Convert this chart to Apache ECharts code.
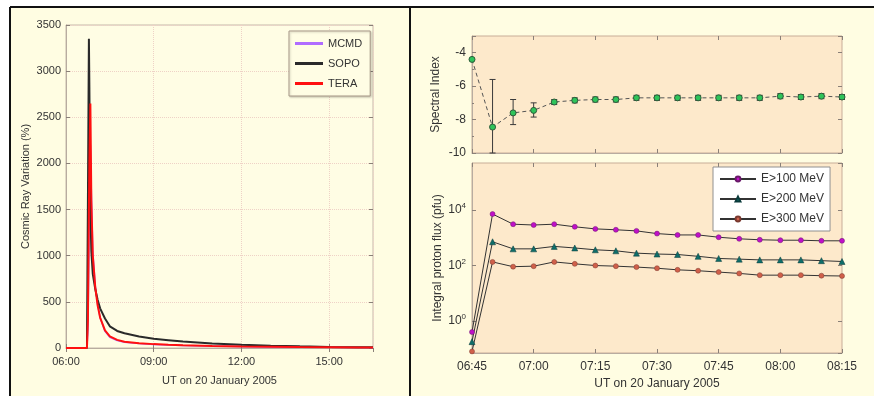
<!DOCTYPE html>
<html>
<head>
<meta charset="utf-8">
<script src="https://cdn.jsdelivr.net/npm/echarts@6/dist/echarts.min.js"></script>
<style>
html,body{margin:0;padding:0;background:#fff}
#chart{width:874px;height:396px}
</style>
</head>
<body>
<div id="chart"></div>
<script>
// left panel: cosmic ray variation (%)
var crTimes = ['06:00','06:43','06:44','06:45','06:47','06:48','06:50','06:52','06:55','07:00','07:05','07:10','07:20','07:30','07:45','08:00','08:30','09:00','09:30','10:00','11:00','12:00','13:00','14:00','15:00','16:00','16:30'];
var mcmd = [0,0,0,200,1000,1600,2200,1700,1050,680,470,330,180,115,80,62,48,38,33,28,21,15,11,9,7,5,4];
var sopo = [0,0,800,1600,3350,2800,1500,1050,800,640,520,430,320,235,185,160,125,100,85,70,50,35,25,18,12,9,8];
var tera = [0,0,0,300,1500,2000,2650,1600,1000,660,460,330,190,125,88,68,52,42,36,31,23,17,13,10,8,6,5];

// right panels, 5 min steps
var fxTimes = ['06:45','06:50','06:55','07:00','07:05','07:10','07:15','07:20','07:25','07:30','07:35','07:40','07:45','07:50','07:55','08:00','08:05','08:10','08:15'];
var specIndex = [-4.4,-8.45,-7.6,-7.45,-6.95,-6.85,-6.8,-6.8,-6.7,-6.7,-6.7,-6.7,-6.7,-6.7,-6.7,-6.6,-6.65,-6.6,-6.65];
var specHigh = [-4.4,-5.6,-6.8,-7.0,-6.8,-6.7,-6.65,-6.65,-6.55,-6.55,-6.55,-6.55,-6.55,-6.55,-6.55,-6.45,-6.5,-6.45,-6.5];
var specLow = [-4.4,-10,-8.3,-7.85,-7.1,-7.0,-6.95,-6.95,-6.85,-6.85,-6.85,-6.85,-6.85,-6.85,-6.85,-6.75,-6.8,-6.75,-6.8];
var e100 = [0.4,7200,3100,2900,3100,2500,2100,1950,1780,1420,1270,1270,1050,920,850,820,820,780,780];
var e200 = [0.18,720,400,400,490,430,370,340,280,260,250,215,180,170,160,160,160,150,140];
var e300 = [0.08,135,91,95,135,115,100,95,88,80,70,65,58,52,45,45,45,43,42];

function toMin(s){
	var p = s.split(':');
	return parseInt(p[0],10)*60 + parseInt(p[1],10);
}
function pad(n){ return (n<10?'0':'')+n; }
function fmtTime(m){ return pad(Math.floor(m/60))+':'+pad(m%60); }
function pairs(times, vals){
	var out = [];
	for(var i=0;i<times.length;i++){ out.push([toMin(times[i]), vals[i]]); }
	return out;
}

var font = 'Liberation Sans, Arial, sans-serif';
var txt = '#333';
var tick = {show:true, inside:true, length:4, lineStyle:{color:'#8a8078'}};
var edge = {show:true, lineStyle:{color:'#b8aca0', width:1}};

function mirrorX(grid, min, max, interval){
	return {type:'value', gridIndex:grid, position:'top', min:min, max:max, interval:interval,
		axisLine:{show:false}, axisTick:tick, axisLabel:{show:false}, splitLine:{show:false}};
}
function mirrorY(grid, type, min, max, interval, logBase){
	var a = {type:type, gridIndex:grid, position:'right', min:min, max:max,
		axisLine:{show:false}, axisTick:tick, axisLabel:{show:false}, splitLine:{show:false}};
	if(interval) a.interval = interval;
	if(logBase) a.logBase = logBase;
	return a;
}

var myChart = echarts.init(document.getElementById('chart'));
var option = {
	backgroundColor:'#fff',
	animation:false,
	textStyle:{fontFamily:font},
	graphic:[
		{type:'rect', z:-10, shape:{x:10,y:7,width:864,height:389}, style:{fill:'#fffde2'}},
		{type:'line', z:100, shape:{x1:10,y1:7,x2:874,y2:7}, style:{stroke:'#111',lineWidth:2}},
		{type:'line', z:100, shape:{x1:10,y1:7,x2:10,y2:396}, style:{stroke:'#111',lineWidth:2}},
		{type:'line', z:100, shape:{x1:410,y1:7,x2:410,y2:396}, style:{stroke:'#111',lineWidth:2}}
	],
	grid:[
		{left:66, top:25, width:307, height:323, show:true, backgroundColor:'#fffde4', borderColor:'#c4b8aa'},
		{left:472, top:36, width:370, height:117, show:true, backgroundColor:'#fde9cb', borderColor:'#c8ad98'},
		{left:472, top:163, width:370, height:190, show:true, backgroundColor:'#fde9cb', borderColor:'#c8ad98'}
	],
	legend:[
		{
			data:['MCMD','SOPO','TERA'], orient:'vertical', left:289, top:31,
			icon:'rect', itemWidth:28, itemHeight:3, itemGap:9, padding:[7,8,7,6],
			backgroundColor:'#fffde4', borderColor:'#a89888', borderWidth:1,
			shadowColor:'rgba(0,0,0,0.2)', shadowBlur:2, shadowOffsetX:1, shadowOffsetY:1,
			textStyle:{fontSize:11, color:txt, fontFamily:font}
		},
		{
			data:['E>100 MeV','E>200 MeV','E>300 MeV'], orient:'vertical', left:713, top:167,
			itemWidth:36, itemHeight:6, itemGap:8, padding:[6,6,6,6],
			backgroundColor:'#fff', borderColor:'#909090', borderWidth:1,
			textStyle:{fontSize:12, color:txt, fontFamily:font}
		}
	],
	xAxis:[
		{type:'value', gridIndex:0, min:360, max:990, interval:180,
			name:'UT on 20 January 2005', nameLocation:'middle', nameGap:27,
			nameTextStyle:{fontSize:11, color:txt},
			axisLine:edge, axisTick:tick,
			axisLabel:{fontSize:11, color:txt, margin:8, showMaxLabel:false, formatter:function(v){return fmtTime(v);}},
			splitLine:{show:true, lineStyle:{color:'#efd2c6', type:'dotted'}}},
		{type:'value', gridIndex:1, min:405, max:495, interval:15,
			axisLine:edge, axisTick:tick, axisLabel:{show:false}, splitLine:{show:false}},
		{type:'value', gridIndex:2, min:405, max:495, interval:15,
			name:'UT on 20 January 2005', nameLocation:'middle', nameGap:25,
			nameTextStyle:{fontSize:12, color:txt},
			axisLine:edge, axisTick:tick,
			axisLabel:{fontSize:12, color:txt, margin:8, formatter:function(v){return fmtTime(v);}},
			splitLine:{show:false}},
		mirrorX(0, 360, 990, 180),
		mirrorX(1, 405, 495, 15),
		mirrorX(2, 405, 495, 15)
	],
	yAxis:[
		{type:'value', gridIndex:0, min:0, max:3500, interval:500,
			name:'Cosmic Ray Variation (%)', nameLocation:'middle', nameGap:35,
			nameTextStyle:{fontSize:11, color:txt},
			axisLine:edge, axisTick:tick,
			axisLabel:{fontSize:11, color:txt, margin:5, formatter:function(v){return String(v);}},
			splitLine:{show:true, lineStyle:{color:'#efd2c6', type:'dotted'}}},
		{type:'value', gridIndex:1, min:-10, max:-3, interval:2,
			name:'Spectral Index', nameLocation:'middle', nameGap:30,
			nameTextStyle:{fontSize:12, color:txt},
			axisLine:edge, axisTick:tick,
			minorTick:{show:true, splitNumber:2, length:2, lineStyle:{color:'#8a8078'}},
			axisLabel:{fontSize:12, color:txt, margin:6, showMaxLabel:false},
			splitLine:{show:false}},
		{type:'log', gridIndex:2, logBase:100, min:0.07, max:500000,
			name:'Integral proton flux (pfu)', nameLocation:'middle', nameGap:28,
			nameTextStyle:{fontSize:12, color:txt},
			axisLine:edge, axisTick:tick,
			axisLabel:{color:txt, margin:6, showMinLabel:false, showMaxLabel:false,
				formatter:function(v){ return '{b|10}{s|' + Math.round(Math.log(v)/Math.LN10) + '}'; },
				rich:{b:{fontSize:12, color:txt, fontFamily:font}, s:{fontSize:8, color:txt, fontFamily:font, verticalAlign:'top', padding:[0,0,8,0]}}},
			splitLine:{show:false}},
		mirrorY(0, 'value', 0, 3500, 500),
		mirrorY(1, 'value', -10, -3, 2),
		mirrorY(2, 'log', 0.07, 500000, null, 100)
	],
	series:[
		{name:'MCMD', type:'line', xAxisIndex:0, yAxisIndex:0, data:pairs(crTimes, mcmd),
			showSymbol:false, symbol:'none', color:'#b06cff', lineStyle:{width:1.5}},
		{name:'SOPO', type:'line', xAxisIndex:0, yAxisIndex:0, data:pairs(crTimes, sopo),
			showSymbol:false, symbol:'none', color:'#2a2a2a', lineStyle:{width:2}},
		{name:'TERA', type:'line', xAxisIndex:0, yAxisIndex:0, data:pairs(crTimes, tera),
			showSymbol:false, symbol:'none', color:'#ff1010', lineStyle:{width:2}},
		{type:'custom', xAxisIndex:1, yAxisIndex:1,
			data:fxTimes.map(function(t,i){ return [toMin(t), specLow[i], specHigh[i]]; }),
			encode:{x:0, y:[1,2]},
			renderItem:function(params, api){
				var lo = api.coord([api.value(0), api.value(1)]);
				var hi = api.coord([api.value(0), api.value(2)]);
				if(Math.abs(lo[1]-hi[1]) < 1) return null;
				var w = 3, st = {stroke:'#3a3a3a', lineWidth:1};
				return {type:'group', children:[
					{type:'line', shape:{x1:lo[0],y1:lo[1],x2:hi[0],y2:hi[1]}, style:st},
					{type:'line', shape:{x1:hi[0]-w,y1:hi[1],x2:hi[0]+w,y2:hi[1]}, style:st},
					{type:'line', shape:{x1:lo[0]-w,y1:lo[1],x2:lo[0]+w,y2:lo[1]}, style:st}
				]};
			}},
		{type:'line', xAxisIndex:1, yAxisIndex:1, data:pairs(fxTimes, specIndex),
			symbol:'circle', symbolSize:6, z:3,
			lineStyle:{color:'#555', width:1, type:[4,3]},
			itemStyle:{color:'#2fc45a', borderColor:'#2e5a3a', borderWidth:1}},
		{name:'E>100 MeV', type:'line', xAxisIndex:2, yAxisIndex:2, data:pairs(fxTimes, e100),
			symbol:'circle', symbolSize:5,
			lineStyle:{color:'#333', width:1},
			itemStyle:{color:'#c010c8', borderColor:'#6a1a6a', borderWidth:0.5}},
		{name:'E>200 MeV', type:'line', xAxisIndex:2, yAxisIndex:2, data:pairs(fxTimes, e200),
			symbol:'triangle', symbolSize:6,
			lineStyle:{color:'#333', width:1},
			itemStyle:{color:'#0e6e6a', borderColor:'#0a3a3a', borderWidth:0.5}},
		{name:'E>300 MeV', type:'line', xAxisIndex:2, yAxisIndex:2, data:pairs(fxTimes, e300),
			symbol:'circle', symbolSize:5,
			lineStyle:{color:'#333', width:1},
			itemStyle:{color:'#d0604a', borderColor:'#7a3a30', borderWidth:0.5}}
	]
};
myChart.setOption(option);
</script>
</body>
</html>
